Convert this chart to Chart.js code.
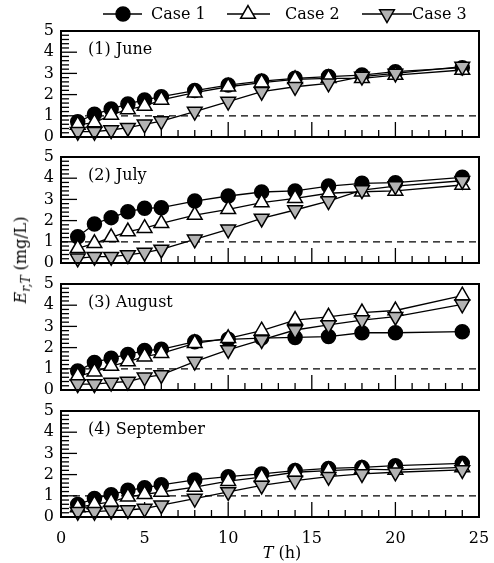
<!DOCTYPE html>
<html>
<head>
<meta charset="utf-8">
<script src="https://cdn.jsdelivr.net/npm/chart.js@4.4.1/dist/chart.umd.min.js"></script>
<style>
  body { margin: 0; background: #fff; width: 494px; height: 563px; position: relative; overflow: hidden; font-family: "DejaVu Serif", serif; }
  canvas { position: absolute; left: 0; }
  #ylab { position: absolute; left: 22px; top: 260px; transform: translate(-50%, -50%) rotate(-90deg); white-space: nowrap; font-size: 16px; color: #000; }
  #ylab sub { font-size: 12px; }
  #xlab { position: absolute; left: 282px; top: 552px; transform: translate(-50%, -50%); white-space: nowrap; font-size: 16px; color: #000; }
</style>
</head>
<body>
<canvas id="juneChart" width="494" height="147" style="top:0px"></canvas>
<canvas id="julyChart" width="494" height="126" style="top:147px"></canvas>
<canvas id="augChart" width="494" height="127" style="top:273px"></canvas>
<canvas id="sepChart" width="494" height="163" style="top:400px"></canvas>
<div id="ylab"><i>E</i><sub><i>r,T</i></sub> (mg/L)</div>
<div id="xlab"><i>T</i> (h)</div>

<script>
/* ================= DATA ================= */
const hours = [1, 2, 3, 4, 5, 6, 8, 10, 12, 14, 16, 18, 20, 24];
const caseNames = ["Case 1", "Case 2", "Case 3"];
const panelTitles = ["(1) June", "(2) July", "(3) August", "(4) September"];
const yTicks = [0, 1, 2, 3, 4, 5];
const xTicks = [0, 5, 10, 15, 20, 25];
const threshold = 1;

const juneCase1 = [0.72, 1.07, 1.32, 1.56, 1.75, 1.9, 2.19, 2.45, 2.64, 2.77, 2.85, 2.92, 3.08, 3.27];
const juneCase2 = [0.57, 0.68, 1.04, 1.3, 1.46, 1.75, 2.09, 2.37, 2.56, 2.72, 2.77, 2.77, 2.92, 3.16];
const juneCase3 = [0.25, 0.25, 0.33, 0.44, 0.6, 0.75, 1.2, 1.67, 2.14, 2.37, 2.53, 2.85, 3.0, 3.32];

const julyCase1 = [1.24, 1.84, 2.14, 2.42, 2.58, 2.61, 2.92, 3.16, 3.35, 3.4, 3.63, 3.76, 3.79, 4.04];
const julyCase2 = [0.69, 0.93, 1.21, 1.48, 1.64, 1.87, 2.26, 2.53, 2.85, 3.05, 3.29, 3.36, 3.4, 3.68];
const julyCase3 = [0.22, 0.3, 0.3, 0.38, 0.49, 0.64, 1.12, 1.59, 2.1, 2.5, 2.92, 3.44, 3.63, 3.88];

const augCase1 = [0.9, 1.3, 1.5, 1.68, 1.86, 1.92, 2.28, 2.39, 2.45, 2.48, 2.52, 2.7, 2.7, 2.75];
const augCase2 = [0.66, 0.86, 1.13, 1.34, 1.57, 1.73, 2.2, 2.44, 2.8, 3.3, 3.45, 3.65, 3.75, 4.45];
const augCase3 = [0.28, 0.28, 0.35, 0.4, 0.6, 0.71, 1.34, 1.89, 2.36, 2.83, 3.07, 3.3, 3.46, 4.04];

const sepCase1 = [0.59, 0.87, 1.05, 1.26, 1.38, 1.52, 1.75, 1.9, 2.03, 2.19, 2.29, 2.34, 2.42, 2.53];
const sepCase2 = [0.45, 0.6, 0.71, 0.95, 1.07, 1.18, 1.41, 1.69, 1.88, 2.11, 2.19, 2.26, 2.22, 2.34];
const sepCase3 = [0.25, 0.25, 0.3, 0.33, 0.4, 0.56, 0.87, 1.18, 1.49, 1.72, 1.9, 2.03, 2.11, 2.22];

/* ================= STYLE ================= */
const FONT = "DejaVu Serif";
const GREY = "#b3b3b3";
const markerStyles = [
  { pointStyle: "circle", radius: 7, rotation: 0, fill: "#000" },
  { pointStyle: "triangle", radius: 8.5, rotation: 0, fill: "#fff" },
  { pointStyle: "triangle", radius: 8.5, rotation: 180, fill: GREY }
];

function toPoints(values) {
  return hours.map((h, i) => ({ x: h, y: values[i] }));
}

/* frame, inside ticks, dashed line, panel title */
const panelDecor = {
  id: "panelDecor",
  beforeDatasetsDraw(chart, args, opts) {
    const ctx = chart.ctx;
    const a = chart.chartArea;
    const xs = chart.scales.x, ys = chart.scales.y;
    ctx.save();
    ctx.strokeStyle = "#000";
    // dashed threshold line
    ctx.lineWidth = 1.3;
    ctx.setLineDash([7, 5]);
    const yd = ys.getPixelForValue(threshold);
    ctx.beginPath();
    ctx.moveTo(a.left, yd);
    ctx.lineTo(a.right, yd);
    ctx.stroke();
    ctx.setLineDash([]);
    // y ticks inside (every 0.2)
    for (let k = 1; k < 25; k++) {
      const y = ys.getPixelForValue(k / 5);
      const len = k % 5 === 0 ? 16 : 8;
      ctx.beginPath();
      ctx.moveTo(a.left, y);
      ctx.lineTo(a.left + len, y);
      ctx.stroke();
    }
    // x ticks inside (every 1)
    for (let k = 1; k < 25; k++) {
      const x = xs.getPixelForValue(k);
      const len = k % 5 === 0 ? 15 : 7;
      ctx.beginPath();
      ctx.moveTo(x, a.bottom);
      ctx.lineTo(x, a.bottom - len);
      ctx.stroke();
    }
    ctx.restore();
  },
  afterDraw(chart, args, opts) {
    const ctx = chart.ctx;
    const a = chart.chartArea;
    ctx.save();
    ctx.strokeStyle = "#000";
    ctx.lineWidth = 2;
    ctx.strokeRect(a.left, a.top, a.right - a.left, a.bottom - a.top);
    ctx.fillStyle = "#000";
    ctx.font = "16px '" + FONT + "'";
    ctx.textBaseline = "middle";
    ctx.textAlign = "left";
    ctx.fillText(opts.title, a.left + 27, a.top + 19);
    ctx.restore();
  }
};

/* legend across the top of the first panel */
const topLegend = {
  id: "topLegend",
  afterDraw(chart, args, opts) {
    if (!opts.show) return;
    const ctx = chart.ctx;
    const y = 14;
    const items = [
      { x1: 103, x2: 142, mx: 123, tx: 151 },
      { x1: 227, x2: 270, mx: 248, tx: 285 },
      { x1: 362, x2: 412, mx: 387, tx: 412 }
    ];
    ctx.save();
    items.forEach((it, i) => {
      ctx.strokeStyle = "#000";
      ctx.lineWidth = 1.3;
      ctx.beginPath();
      ctx.moveTo(it.x1, y);
      ctx.lineTo(it.x2, y);
      ctx.stroke();
      const m = markerStyles[i];
      ctx.fillStyle = m.fill;
      ctx.lineWidth = 1.5;
      Chart.helpers.drawPoint(ctx, { pointStyle: m.pointStyle, radius: m.radius, rotation: m.rotation, borderWidth: 1.5 }, it.mx, y);
      ctx.fillStyle = "#000";
      ctx.font = "16px '" + FONT + "'";
      ctx.textBaseline = "middle";
      ctx.textAlign = "left";
      ctx.fillText(caseNames[i], it.tx, y + 1);
    });
    ctx.restore();
  }
};

function makePanel(id, title, series, padTop, padBottom, showX) {
  const datasets = series.map((vals, i) => ({
    label: caseNames[i],
    data: toPoints(vals),
    borderColor: "#000",
    borderWidth: 1.3,
    backgroundColor: markerStyles[i].fill,
    pointStyle: markerStyles[i].pointStyle,
    pointRadius: markerStyles[i].radius,
    pointRotation: markerStyles[i].rotation,
    pointBackgroundColor: markerStyles[i].fill,
    pointBorderColor: "#000",
    pointBorderWidth: 1.5,
    order: 2 - i,
    clip: false,
    tension: 0
  }));
  return new Chart(document.getElementById(id), {
    type: "line",
    data: { datasets: datasets },
    plugins: [panelDecor, topLegend],
    options: {
      responsive: false,
      animation: false,
      devicePixelRatio: 1,
      layout: { padding: { left: 0, right: 15, top: padTop, bottom: padBottom } },
      plugins: {
        legend: { display: false },
        tooltip: { enabled: false },
        panelDecor: { title: title },
        topLegend: { show: id === "juneChart" }
      },
      scales: {
        x: {
          type: "linear",
          min: 0,
          max: 25,
          display: showX,
          grid: { display: false, drawTicks: false },
          border: { display: false },
          afterBuildTicks: s => { s.ticks = xTicks.map(v => ({ value: v })); },
          afterFit: s => { if (showX) s.height = 46; s.paddingLeft = 0; s.paddingRight = 0; },
          ticks: { padding: 12, autoSkip: false, color: "#000", font: { family: FONT, size: 16 }, maxRotation: 0 }
        },
        y: {
          min: 0,
          max: 5,
          grid: { display: false, drawTicks: false },
          border: { display: false },
          afterBuildTicks: s => { s.ticks = yTicks.map(v => ({ value: v })); },
          afterFit: s => { s.width = 61; s.paddingTop = 0; s.paddingBottom = 0; },
          ticks: { padding: 7, autoSkip: false, color: "#000", font: { family: FONT, size: 16 } }
        }
      }
    }
  });
}

makePanel("juneChart", panelTitles[0], [juneCase1, juneCase2, juneCase3], 31, 10, false);
makePanel("julyChart", panelTitles[1], [julyCase1, julyCase2, julyCase3], 10, 10, false);
makePanel("augChart", panelTitles[2], [augCase1, augCase2, augCase3], 11, 10, false);
makePanel("sepChart", panelTitles[3], [sepCase1, sepCase2, sepCase3], 11, 0, true);
</script>
</body>
</html>
